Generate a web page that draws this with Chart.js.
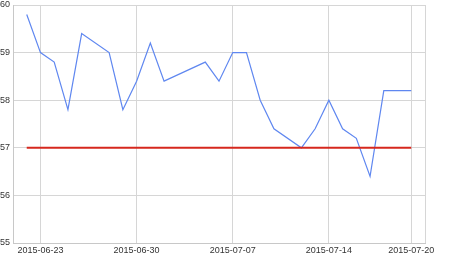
<!DOCTYPE html>
<html>
<head>
<meta charset="utf-8">
<script src="https://cdn.jsdelivr.net/npm/chart.js@4"></script>
<style>
  html, body { margin: 0; padding: 0; background: #fff; }
  #wrap { width: 450px; height: 257px; position: relative; }
</style>
</head>
<body>
<div id="wrap"><canvas id="chart"></canvas></div>
<script>
// daily closing values
let dates = [
  "2015-06-22", "2015-06-23", "2015-06-24", "2015-06-25", "2015-06-26",
  "2015-06-28", "2015-06-29", "2015-06-30", "2015-07-01", "2015-07-02",
  "2015-07-05", "2015-07-06", "2015-07-07", "2015-07-08", "2015-07-09",
  "2015-07-10", "2015-07-12", "2015-07-13", "2015-07-14", "2015-07-15",
  "2015-07-16", "2015-07-17", "2015-07-18", "2015-07-20"
];
let values = [
  59.8, 59.0, 58.8, 57.8, 59.4,
  59.0, 57.8, 58.4, 59.2, 58.4,
  58.8, 58.4, 59.0, 59.0, 58.0,
  57.4, 57.0, 57.4, 58.0, 57.4,
  57.2, 56.4, 58.2, 58.2
];
// flat reference level
let limitDates = ["2015-06-22", "2015-07-20"];
let limitValues = [57, 57];

let tickDates = ["2015-06-23", "2015-06-30", "2015-07-07", "2015-07-14", "2015-07-20"];
let startDate = "2015-06-21";
let endDate = "2015-07-21";

function dayIndex(s) {
  return Math.round((Date.parse(s) - Date.parse(startDate)) / 86400000);
}

let mainPoints = dates.map(function (d, i) {
  return { x: dayIndex(d), y: values[i] };
});
let limitPoints = limitDates.map(function (d, i) {
  return { x: dayIndex(d), y: limitValues[i] };
});

let tickLabels = {};
tickDates.forEach(function (d) {
  tickLabels[dayIndex(d)] = d;
});

let font = { family: "'Liberation Sans', Arial, sans-serif", size: 9 };

try {
  let ctx = document.getElementById("chart").getContext("2d");

  new Chart(ctx, {
    type: "line",
    data: {
      datasets: [
        {
          data: limitPoints,
          borderColor: "rgb(214, 40, 30)",
          borderWidth: 2,
          pointRadius: 0,
          tension: 0,
        },
        {
          data: mainPoints,
          borderColor: "rgb(95, 135, 240)",
          borderWidth: 1.2,
          pointRadius: 0,
          tension: 0,
        },
      ],
    },
    options: {
      responsive: true,
      maintainAspectRatio: false,
      animation: false,
      layout: { padding: { top: 5, right: 25, left: 0, bottom: 0 } },
      plugins: {
        legend: { display: false },
        tooltip: { enabled: false },
      },
      scales: {
        x: {
          type: "linear",
          min: dayIndex(startDate),
          max: dayIndex(endDate),
          afterBuildTicks: function (scale) {
            let t = Object.keys(tickLabels).map(function (k) {
              return { value: Number(k) };
            });
            t.push({ value: dayIndex(endDate) });
            scale.ticks = t;
          },
          afterFit: function (scale) {
            scale.height = 14;
            scale.paddingLeft = 0;
            scale.paddingRight = 0;
          },
          ticks: {
            autoSkip: false,
            maxRotation: 0,
            padding: 2,
            color: "#333",
            font: font,
            callback: function (v) {
              return tickLabels[v] || "";
            },
          },
          grid: { color: "#d6d6d6", drawTicks: false },
          border: { color: "#c8c8c8" },
        },
        y: {
          min: 55,
          max: 60,
          afterFit: function (scale) {
            scale.width = 13;
            scale.paddingTop = 0;
            scale.paddingBottom = 0;
          },
          ticks: {
            stepSize: 1,
            padding: 3,
            color: "#333",
            font: font,
          },
          grid: { color: "#d6d6d6", drawTicks: false },
          border: { color: "#c8c8c8" },
        },
      },
    },
  });
} catch (error) {
  console.log("while creating the chart:", error);
}
</script>
</body>
</html>
